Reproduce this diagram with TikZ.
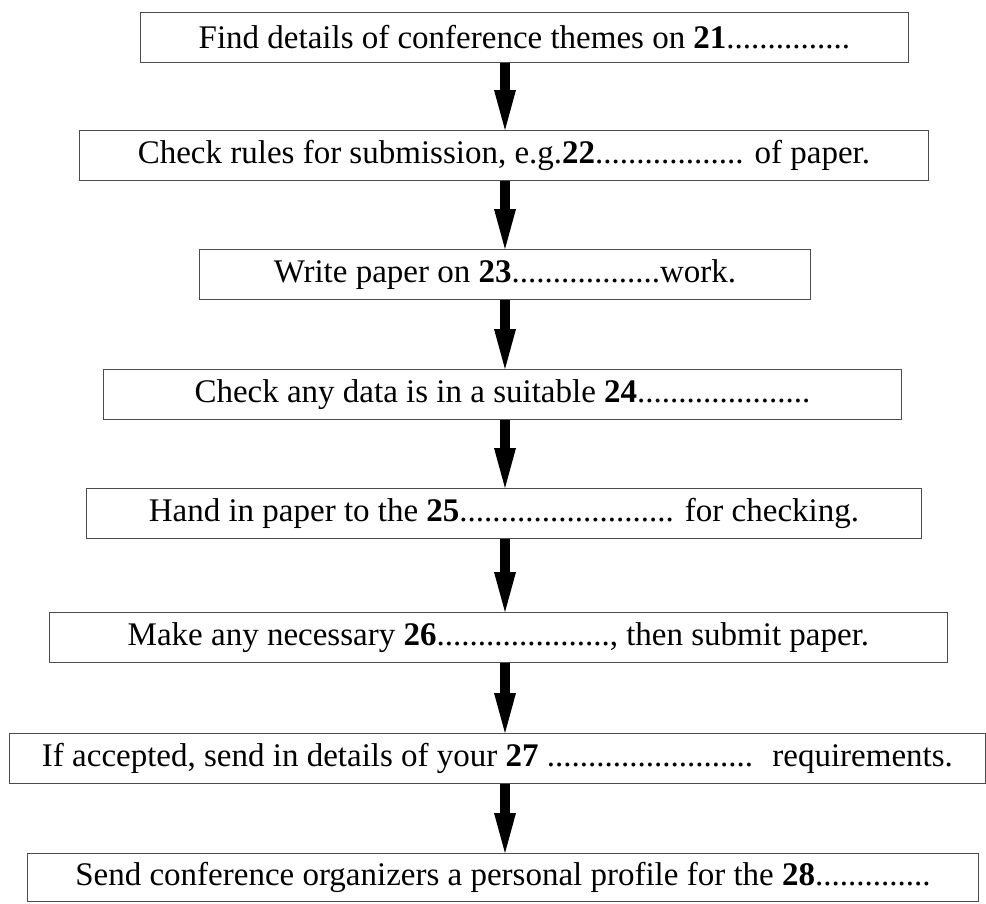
\documentclass[tikz,border=0pt]{standalone}
\usepackage{fontspec}
\setmainfont{Liberation Serif}
\usetikzlibrary{arrows.meta}

\newcommand{\gapdots}[1]{\foreach \k in {1,...,#1}{.}}

\tikzset{
  stepbox/.style={draw=black!70, line width=0.9pt, minimum height=50pt,
    inner sep=0pt, anchor=north west, font=\fontsize{33}{38}\selectfont},
  flow/.style={line width=10pt,
    -{Triangle[width=22pt, length=40pt, line width=0pt]}}
}

\begin{document}
\begin{tikzpicture}[x=1pt, y=1pt]
        \useasboundingbox (0,0) rectangle (986,-903);

        % BOXES
        % -----------------

        \node[stepbox, minimum width=768pt] (find)   at (140,-12)
          {Find details of conference themes on \textbf{21}\gapdots{15}};
        \node[stepbox, minimum width=849pt] (rules)  at (79,-130)
          {Check rules for submission, e.g.\textbf{22}\gapdots{18} of paper.};
        \node[stepbox, minimum width=611pt] (write)  at (199,-249)
          {Write paper on \textbf{23}\gapdots{18}work.};
        \node[stepbox, minimum width=798pt] (data)   at (103,-369)
          {Check any data is in a suitable \textbf{24}\gapdots{21}};
        \node[stepbox, minimum width=835pt] (hand)   at (86,-488)
          {Hand in paper to the \textbf{25}\gapdots{26} for checking.};
        \node[stepbox, minimum width=898pt] (change) at (49,-612)
          {Make any necessary \textbf{26}\gapdots{21}, then submit paper.};
        \node[stepbox, minimum width=976pt] (accept) at (9,-733)
          {If accepted, send in details of your \textbf{27} \gapdots{25}~ requirements.};
        \node[stepbox, minimum width=951pt, minimum height=48pt] (profile) at (27,-853)
          {Send conference organizers a personal profile for the \textbf{28}\gapdots{14}};

        % ARROWS
        % -----------------

        \coordinate (axis) at (505,0);
        \foreach \a/\b in {find/rules, rules/write, write/data, data/hand,
                           hand/change, change/accept, accept/profile}
          \draw[flow] (\a.south -| axis) -- (\b.north -| axis);

\end{tikzpicture}
\end{document}
